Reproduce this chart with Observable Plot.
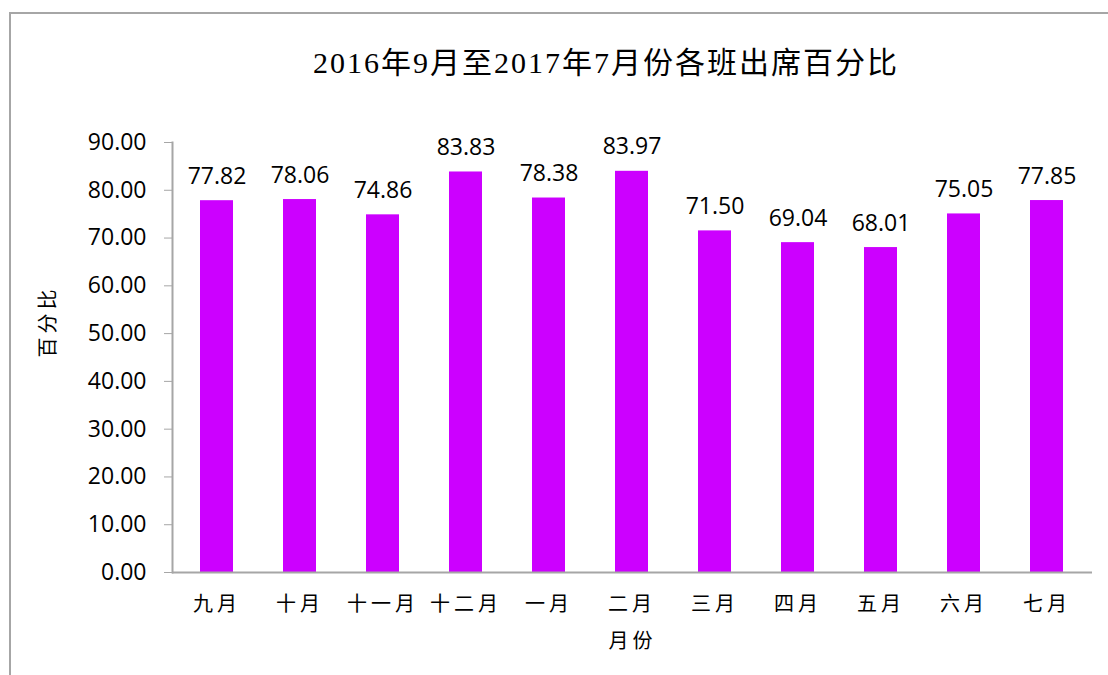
<!DOCTYPE html>
<html>
<head>
<meta charset="utf-8">
<script src="https://cdn.jsdelivr.net/npm/d3@7"></script>
<script src="https://cdn.jsdelivr.net/npm/@observablehq/plot@0.6"></script>
<style>
  html, body { margin: 0; padding: 0; background: #fff; }
  #wrap { position: relative; width: 1108px; height: 675px; overflow: hidden; }
  #frame { position: absolute; left: 9px; top: 12px; width: 1200px; height: 800px;
           border-left: 2px solid #a6a6a6; border-top: 2px solid #a6a6a6; }
  #title { position: absolute; left: 0; top: 0; width: 1108px; height: 100px; text-align: center;
           font-family: "Liberation Serif", "Noto Sans CJK SC", serif; font-size: 30px;
           line-height: 126px; letter-spacing: 2px; color: #000; padding-left: 104px; box-sizing: border-box; }
  #chart { position: absolute; left: 0; top: 100px; }
</style>
</head>
<body>
<div id="wrap">
  <div id="frame"></div>
  <div id="title">2016年9月至2017年7月份各班出席百分比</div>
  <div id="chart"></div>
</div>
<script>
const months = ["九月", "十月", "十一月", "十二月", "一月", "二月", "三月", "四月", "五月", "六月", "七月"];
const values = [77.82, 78.06, 74.86, 83.83, 78.38, 83.97, 71.50, 69.04, 68.01, 75.05, 77.85];
const yTicks = [0, 10, 20, 30, 40, 50, 60, 70, 80, 90];
const xTitle = "月份";
const yTitle = "百分比";

const data = months.map((m, i) => ({month: m, value: values[i]}));
const gray = "#a6a6a6";

const chart = Plot.plot({
  width: 1108,
  height: 575,
  marginTop: 42,
  marginBottom: 103,
  marginLeft: 172,
  marginRight: 16,
  style: {fontFamily: "'Open Sans', sans-serif", color: "#000", background: "transparent"},
  x: {domain: months, paddingInner: 0.6, paddingOuter: 0.3, label: null},
  y: {domain: [0, 90], label: null},
  marks: [
    Plot.barY(data, {x: "month", y: "value", fill: "#CC00FF"}),
    Plot.text(data, {x: "month", y: "value", text: d => d.value.toFixed(2), dy: -17, lineAnchor: "bottom",
      fontSize: 23, fontFamily: "'Open Sans', sans-serif", fill: "#000"}),
    Plot.axisY({ticks: yTicks, tickFormat: d => d.toFixed(2), tickSize: 8, tickPadding: 18,
      stroke: gray, fill: "#000", fontSize: 23, fontFamily: "'Open Sans', sans-serif", label: null}),
    Plot.axisX({tickSize: 0, tickPadding: 24, fill: "#000", fontSize: 20,
      fontFamily: "'Noto Sans CJK SC', sans-serif", label: null}),
    Plot.frame({anchor: "left", stroke: gray, strokeWidth: 2}),
    Plot.ruleY([0], {stroke: gray, strokeWidth: 2}),
    Plot.text([xTitle], {frameAnchor: "bottom", dy: 75, fontSize: 20,
      fontFamily: "'Noto Sans CJK SC', sans-serif", fill: "#000"}),
    Plot.text([yTitle], {frameAnchor: "left", dx: -124, rotate: -90, fontSize: 20,
      fontFamily: "'Noto Sans CJK SC', sans-serif", fill: "#000"})
  ]
});
chart.querySelectorAll("text").forEach(t => {
  if (/[\u4e00-\u9fff]/.test(t.textContent)) t.setAttribute("letter-spacing", "4");
});
document.getElementById("chart").appendChild(chart);
</script>
</body>
</html>
